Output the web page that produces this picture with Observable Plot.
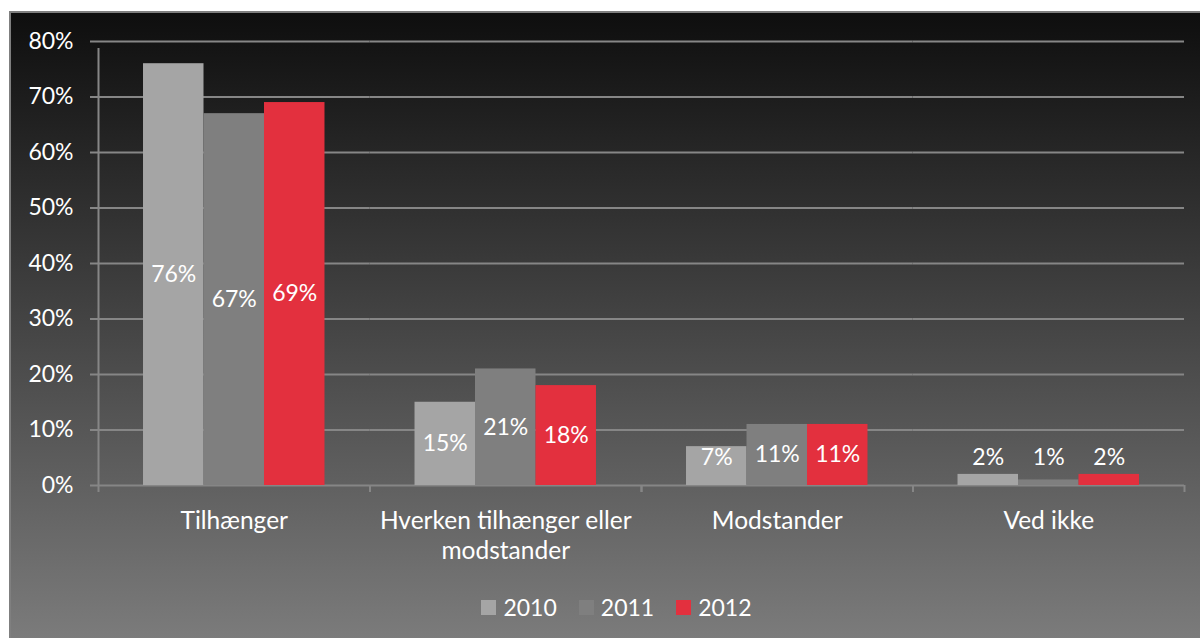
<!DOCTYPE html>
<html>
<head>
<meta charset="utf-8">
<script src="https://cdn.jsdelivr.net/npm/d3@7"></script>
<script src="https://cdn.jsdelivr.net/npm/@observablehq/plot@0.6"></script>
<style>
  html, body { margin: 0; padding: 0; background: #fff; }
  #chart {
    position: absolute; left: 9px; top: 11px;
    width: 1193px; height: 629px; box-sizing: border-box;
    border: 2px solid #7f7f7f;
    background: linear-gradient(to bottom, #0e0e0e 0%, #7b7b7b 100%);
    font-family: Lato, sans-serif; color: #fff;
  }
  #legend {
    display: flex; justify-content: center; align-items: center;
    margin-top: 12px; padding-left: 22px; height: 24px; font-size: 23px; line-height: 24px;
  }
  #legend .item { display: flex; align-items: center; margin: 0 11px; }
  #legend .sw { width: 15px; height: 15px; margin-right: 7px; }
</style>
</head>
<body>
<div id="chart"></div>
<script>
const categories = ["Tilhænger", "Hverken tilhænger eller modstander", "Modstander", "Ved ikke"];
const years = ["2010", "2011", "2012"];
const values2010 = [0.76, 0.15, 0.07, 0.02];
const values2011 = [0.67, 0.21, 0.11, 0.01];
const values2012 = [0.69, 0.18, 0.11, 0.02];
const yTicks = [0, 0.1, 0.2, 0.3, 0.4, 0.5, 0.6, 0.7, 0.8];
const colors = ["#a5a5a5", "#7f7f7f", "#e3303e"];

const series = [values2010, values2011, values2012];
const data = [];
categories.forEach((c, i) => years.forEach((y, j) => data.push({category: c, year: y, value: series[j][i]})));

const W = 1189, H = 570, mL = 87, mR = 16, mT = 28, mB = 98;
const padOuter = 0.744;
const facetStep = (W - mL - mR) / categories.length;
const barStep = facetStep / (years.length + 2 * padOuter);
const edgeOffset = barStep * (0.5 + padOuter); // from first/last bar centre to facet edge
const pct = d3.format(".0%");
const axisColor = "#868686";

const chart = Plot.plot({
  width: W, height: H,
  marginLeft: mL, marginRight: mR, marginTop: mT, marginBottom: mB,
  style: {background: "transparent", color: "white", fontFamily: "Lato, sans-serif", fontSize: "23px", overflow: "visible"},
  fx: {domain: categories, padding: 0, round: false, axis: null, label: null},
  x: {domain: years, paddingInner: 0, paddingOuter: padOuter, round: false, axis: null, label: null},
  y: {domain: [0, 0.8], axis: null, label: null},
  color: {domain: years, range: colors},
  marks: [
    Plot.gridY(yTicks, {stroke: axisColor, strokeOpacity: 1, strokeWidth: 2}),
    // y-axis line (left edge of first group), extending a tick below zero
    Plot.ruleX([categories[0]], {fx: d => d, x: () => years[0], y1: 0, y2: 0.8, insetBottom: -7, dx: -edgeOffset, stroke: axisColor, strokeWidth: 2}),
    // category boundary ticks
    Plot.ruleX(categories, {fx: d => d, x: () => years[0], y1: 0, y2: 0, insetBottom: -7, dx: -edgeOffset, stroke: axisColor, strokeWidth: 2}),
    Plot.ruleX(categories, {fx: d => d, x: () => years[years.length - 1], y1: 0, y2: 0, insetBottom: -7, dx: edgeOffset, stroke: axisColor, strokeWidth: 2}),
    Plot.axisY(yTicks, {tickSize: 8, tickPadding: 17, tickFormat: pct, stroke: axisColor, fill: "white", strokeWidth: 2, fontSize: 23, label: null}),
    Plot.axisFx({anchor: "bottom", tickSize: 0, tickPadding: 23, fill: "white", fontSize: 24.5, lineWidth: 12, lineHeight: 1.2, label: null}),
    Plot.barY(data, {fx: "category", x: "year", y: "value", fill: "year"}),
    Plot.text(data, {fx: "category", x: "year", y: d => Math.max(d.value / 2, 0.05), text: d => pct(d.value), fill: "white", fontSize: 23})
  ]
});
const root = document.getElementById("chart");
root.appendChild(chart);

const legend = document.createElement("div");
legend.id = "legend";
years.forEach((y, i) => {
  const item = document.createElement("div");
  item.className = "item";
  const sw = document.createElement("div");
  sw.className = "sw";
  sw.style.background = colors[i];
  const t = document.createElement("span");
  t.textContent = y;
  item.appendChild(sw); item.appendChild(t);
  legend.appendChild(item);
});
root.appendChild(legend);
</script>
</body>
</html>
